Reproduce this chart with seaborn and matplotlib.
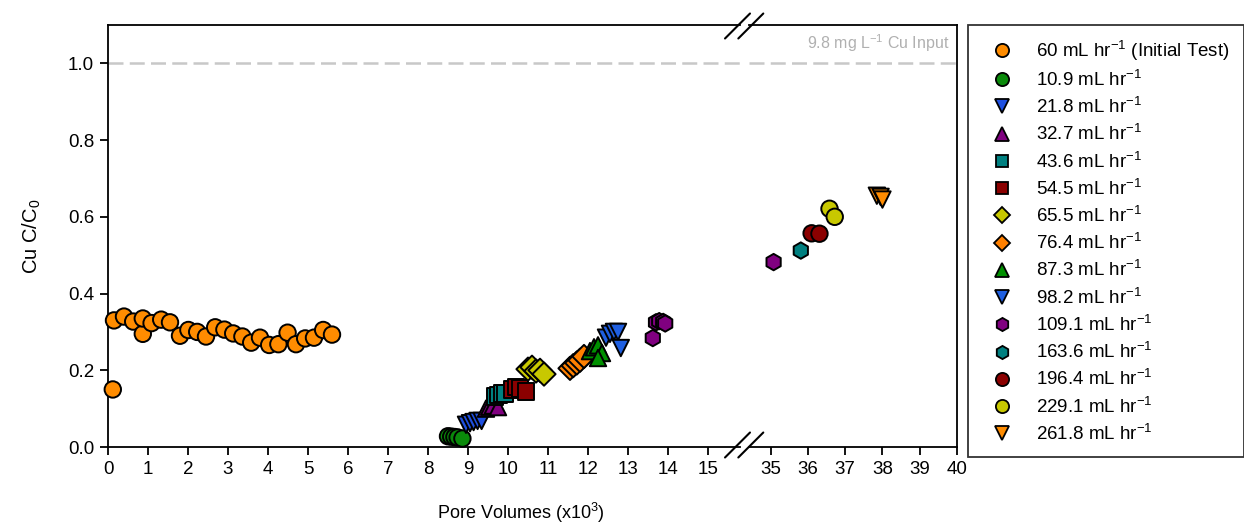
"""
Cu breakthrough vs pore volumes, broken x axis
"""
import numpy as np
import pandas as pd
import matplotlib
matplotlib.use("Agg")
import matplotlib.pyplot as plt
import matplotlib.transforms as mtransforms
from matplotlib.lines import Line2D
import seaborn as sns

# --- data ---
labels = ["60 mL hr$^{-1}$ (Initial Test)", "10.9 mL hr$^{-1}$", "21.8 mL hr$^{-1}$",
          "32.7 mL hr$^{-1}$", "43.6 mL hr$^{-1}$", "54.5 mL hr$^{-1}$",
          "65.5 mL hr$^{-1}$", "76.4 mL hr$^{-1}$", "87.3 mL hr$^{-1}$",
          "98.2 mL hr$^{-1}$", "109.1 mL hr$^{-1}$", "163.6 mL hr$^{-1}$",
          "196.4 mL hr$^{-1}$", "229.1 mL hr$^{-1}$", "261.8 mL hr$^{-1}$"]
colors = ["#ff8c00", "#0a8a0a", "#1f50e0", "#800080", "#008080", "#8b0000",
          "#c8c800", "#ff8000", "#009000", "#1f5fe0", "#800080", "#008080",
          "#8b0000", "#c8c800", "#ff8c00"]
markers = ["o", "o", "v", "^", "s", "s", "D", "D", "^", "v", "h", "h", "o", "o", "v"]

x_60 = [0.12, 0.15, 0.40, 0.63, 0.87, 0.87, 1.09, 1.33, 1.55, 1.80, 2.01, 2.23, 2.45,
        2.68, 2.91, 3.13, 3.36, 3.58, 3.80, 4.03, 4.26, 4.49, 4.70, 4.93, 5.15, 5.38, 5.60]
y_60 = [0.15, 0.33, 0.34, 0.327, 0.295, 0.335, 0.323, 0.332, 0.325, 0.290, 0.305, 0.300,
        0.288, 0.312, 0.306, 0.296, 0.288, 0.272, 0.285, 0.266, 0.268, 0.298, 0.268,
        0.283, 0.285, 0.305, 0.293]
x_109 = [8.50, 8.58, 8.66, 8.74, 8.86]
y_109 = [0.028, 0.027, 0.026, 0.025, 0.022]
x_218 = [8.95, 9.05, 9.14, 9.24, 9.34]
y_218 = [0.058, 0.062, 0.065, 0.068, 0.068]
x_327 = [9.45, 9.53, 9.62, 9.75]
y_327 = [0.100, 0.105, 0.108, 0.104]
x_436 = [9.68, 9.76, 9.85, 9.93]
y_436 = [0.132, 0.136, 0.139, 0.140]
x_545 = [10.10, 10.20, 10.30, 10.45]
y_545 = [0.150, 0.156, 0.152, 0.145]
x_655 = [10.50, 10.60, 10.70, 10.80, 10.90]
y_655 = [0.203, 0.208, 0.198, 0.200, 0.190]
x_764 = [11.55, 11.63, 11.72, 11.80, 11.90]
y_764 = [0.205, 0.212, 0.219, 0.226, 0.236]
x_873 = [12.05, 12.15, 12.25, 12.35, 12.25]
y_873 = [0.250, 0.260, 0.265, 0.245, 0.232]
x_982 = [12.45, 12.55, 12.65, 12.75, 12.82]
y_982 = [0.285, 0.295, 0.300, 0.300, 0.258]
x_1091 = [13.62, 13.70, 13.78, 13.88, 13.93, 35.08]
y_1091 = [0.284, 0.325, 0.328, 0.326, 0.322, 0.482]
x_1636 = [35.81]
y_1636 = [0.512]
x_1964 = [36.10, 36.31]
y_1964 = [0.557, 0.556]
x_2291 = [36.58, 36.72]
y_2291 = [0.621, 0.600]
x_2618 = [37.85, 37.95, 38.00]
y_2618 = [0.655, 0.652, 0.645]

xs = [x_60, x_109, x_218, x_327, x_436, x_545, x_655, x_764, x_873, x_982,
      x_1091, x_1636, x_1964, x_2291, x_2618]
ys = [y_60, y_109, y_218, y_327, y_436, y_545, y_655, y_764, y_873, y_982,
      y_1091, y_1636, y_1964, y_2291, y_2618]

df = pd.concat([pd.DataFrame({"pv": x, "cc": y, "series": lab})
                for x, y, lab in zip(xs, ys, labels)], ignore_index=True)

# --- style ---
sns.set_theme(style="ticks")
plt.rcParams['font.family'] = ['Liberation Sans', 'DejaVu Sans']
plt.rcParams['mathtext.fontset'] = 'custom'
plt.rcParams['mathtext.rm'] = 'Liberation Sans'
plt.rcParams['mathtext.default'] = 'regular'
plt.rcParams['axes.edgecolor'] = 'black'
plt.rcParams['text.color'] = 'black'
plt.rcParams['axes.labelcolor'] = 'black'
plt.rcParams['xtick.color'] = 'black'
plt.rcParams['ytick.color'] = 'black'

W, H = 1244, 527
fig = plt.figure(figsize=(W / 100, H / 100), dpi=100)
fig.patch.set_facecolor('white')

bot = 1 - 447 / H
hgt = (447 - 25) / H
ax1 = fig.add_axes([108 / W, bot, (740 - 108) / W, hgt])
ax2 = fig.add_axes([749 / W, bot, (957 - 749) / W, hgt], sharey=ax1)

palette = dict(zip(labels, colors))
mark_map = dict(zip(labels, markers))

for ax, sub in [(ax1, df[df.pv < 20]), (ax2, df[df.pv > 30])]:
    sns.scatterplot(data=sub, x="pv", y="cc", hue="series", style="series",
                    palette=palette, markers=mark_map, hue_order=labels,
                    style_order=labels, s=140, edgecolor="black", linewidth=1.4,
                    legend=False, ax=ax, clip_on=False, zorder=3)
    ax.axhline(1.0, color="#c8c8c8", lw=1.8, ls=(0, (6, 2.5)), zorder=1)
    ax.set_xlabel("")
    ax.set_ylabel("")
    for sp in ax.spines.values():
        sp.set_linewidth(1.3)
    ax.tick_params(direction="out", length=6, width=1.3, labelsize=13.5, pad=4)

ax1.set_xlim(0, 15.8)
ax1.set_xticks(range(0, 16))
ax1.set_ylim(0, 1.1)
ax1.set_yticks([0.0, 0.2, 0.4, 0.6, 0.8, 1.0])
ax1.set_yticklabels(["0.0", "0.2", "0.4", "0.6", "0.8", "1.0"])
ax1.spines["right"].set_visible(False)

ax2.set_xlim(34.42, 40)
ax2.set_xticks(range(35, 41))
ax2.spines["left"].set_visible(False)
ax2.tick_params(axis="y", left=False, labelleft=False)

ax2.text(0.966, 1.052, "9.8 mg L$^{-1}$ Cu Input",
         transform=mtransforms.blended_transform_factory(ax2.transAxes, ax2.transData),
         ha="right", va="center", fontsize=11.5, color="#b0b0b0")

ax1.set_ylabel("Cu C/C$_0$", fontsize=14.5, labelpad=18)
fig.text(521 / W, 1 - 513 / H, "Pore Volumes (x10$^3$)", ha="center", va="center", fontsize=13)

# break marks
for cy in (26, 445):
    for cx in (737.5, 750.8):
        fig.add_artist(Line2D([(cx - 12.5) / W, (cx + 12.5) / W],
                              [1 - (cy + 12.5) / H, 1 - (cy - 12.5) / H],
                              transform=fig.transFigure, color="black", lw=1.5))

# legend
handles = [Line2D([], [], ls="None", marker=m, markerfacecolor=c, markeredgecolor="black",
                  markeredgewidth=1.3, markersize=9.5 if m not in ("D", "s") else 8.5)
           for m, c in zip(markers, colors)]
leg = fig.legend(handles, labels, loc="upper left", bbox_to_anchor=(968 / W, 1 - 25 / H),
                 frameon=True, fancybox=False, edgecolor="black", fontsize=13.5,
                 labelspacing=0.38, handletextpad=0.73, borderpad=0.72, borderaxespad=0,
                 handlelength=2.2)
leg.get_frame().set_linewidth(1.3)

fig.savefig("out.png", dpi=100)
